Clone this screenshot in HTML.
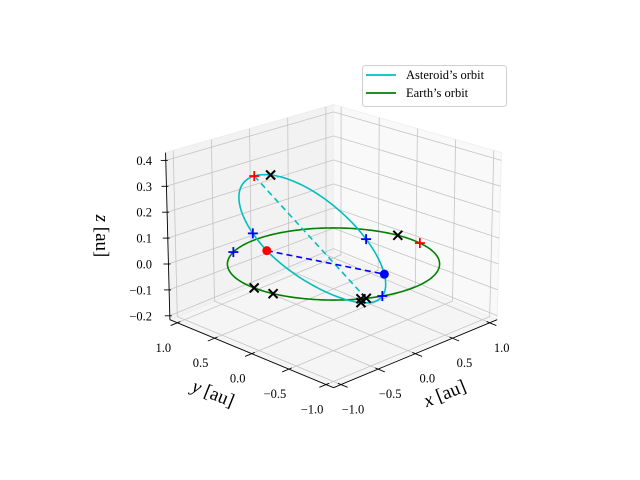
<!DOCTYPE html>
<html><head><meta charset="utf-8"><style>
html,body{margin:0;padding:0;background:#fff;}
svg{display:block;font-family:"Liberation Serif","DejaVu Serif",serif;}
</style></head><body>
<svg id="chart" width="640" height="480" viewBox="0 0 640 480"></svg>
<script>
// ---- data ----
const xTicks = [-1.0, -0.5, 0.0, 0.5, 1.0];
const yTicks = [-1.0, -0.5, 0.0, 0.5, 1.0];
const zTicks = [-0.2, -0.1, 0.0, 0.1, 0.2, 0.3, 0.4];
const xLim = [-1.1, 1.1];
const yLim = [-1.1, 1.1];
const zLim = [-0.215, 0.43];
// asteroid orbit elements (semi-major axis, eccentricity, perihelion angle, node direction, tilt)
const asteroidA = [0.725];
const asteroidE = [0.36];
const asteroidPeriDeg = [112];
const asteroidNodeDeg = [104.5];
const asteroidTilt = [-0.49];
const earthRadius = [1.0];
// marker positions (orbit angles, degrees)
const earthPlusRed = [-9.5];
const earthPlusBlue = [115.7, -107.6];
const earthCross = [7.7, 176.6, 190.3, -120, -117];
const astPlusRed = [-68];
const astPlusBlue = [-14, -145];
const astCross = [-80, 97];
const astDotRed = [0];
const astDotBlue = [180];

const NS = "http://www.w3.org/2000/svg";
const svg = document.getElementById('chart');
function mk(tag, attrs, parent) {
  const e = document.createElementNS(NS, tag);
  for (const k in attrs) e.setAttribute(k, attrs[k]);
  (parent || svg).appendChild(e);
  return e;
}
function proj(x, y, z) {
  const a = z <= 0 ? 25.5 - 25.1 * z : 25.5 - 8.6 * z;
  const b = 75.5 + (z - zLim[0]) * 3.1;
  return [333.5 + b * (x - y) * 0.985, 264 - a * (x + y) - 259 * z];
}
function pts(list) { return list.map(p => proj(p[0], p[1], p[2]).map(v => v.toFixed(2)).join(',')).join(' '); }

// ---- panes ----
const [x0, x1] = xLim, [y0, y1] = yLim, [z0, z1] = zLim;
const floor = mk('polygon', {points: pts([[x0,y0,z0],[x1,y0,z0],[x1,y1,z0],[x0,y1,z0]]), fill: '#f5f5f5', stroke: '#f0f0f0'});


const wallY = mk('polygon', {points: pts([[x0,y1,z0],[x1,y1,z0],[x1,y1,z1],[x0,y1,z1]]), fill: '#f2f2f2', stroke: '#ececec'});


const wallX = mk('polygon', {points: pts([[x1,y0,z0],[x1,y1,z0],[x1,y1,z1],[x1,y0,z1]]), fill: '#f9f9f9', stroke: '#f0f0f0'});



// ---- grid ----
const grid = mk('g', {stroke: '#c4c4c4', 'stroke-width': 0.8, fill: 'none'});


xTicks.forEach(t => { mk('polyline', {points: pts([[t,y0,z0],[t,y1,z0],[t,y1,z1]])}, grid); });
yTicks.forEach(t => { mk('polyline', {points: pts([[x0,t,z0],[x1,t,z0],[x1,t,z1]])}, grid); });
zTicks.forEach(t => { mk('polyline', {points: pts([[x0,y1,t],[x1,y1,t],[x1,y0,t]])}, grid); });

// ---- axes lines + ticks + labels ----
const axes = mk('g', {stroke: '#000', 'stroke-width': 0.9, fill: 'none'});


mk('polyline', {points: pts([[x0,y0,z0],[x1,y0,z0]])}, axes);
mk('polyline', {points: pts([[x0,y0,z0],[x0,y1,z0]])}, axes);
mk('polyline', {points: pts([[x0,y1,z0],[x0,y1,z1]])}, axes);
const labels = mk('g', {fill: '#000', 'font-size': 12.5});
xTicks.forEach(t => {
  mk('polyline', {points: pts([[t,y0+0.04,z0],[t,y0-0.09,z0]])}, axes);
  const p = proj(t, y0, z0);
  const tx = mk('text', {x: p[0] + 12, y: p[1] + 29, 'text-anchor': 'middle'}, labels);
  tx.textContent = (t < 0 ? '\u2212' : '') + Math.abs(t).toFixed(1);
  
  
});
yTicks.forEach(t => {
  mk('polyline', {points: pts([[x0+0.04,t,z0],[x0-0.09,t,z0]])}, axes);
  const p = proj(x0, t, z0);
  const tx = mk('text', {x: p[0] - 14, y: p[1] + 29, 'text-anchor': 'middle'}, labels);
  tx.textContent = (t < 0 ? '\u2212' : '') + Math.abs(t).toFixed(1);
  
  
});
zTicks.forEach(t => {
  const p = proj(x0, y1, t);
  mk('line', {x1: p[0] - 5, y1: p[1], x2: p[0] + 2, y2: p[1]}, axes);
  const tx = mk('text', {x: 152, y: p[1] + 4.5, 'text-anchor': 'end'}, labels);
  tx.textContent = (t < -1e-9 ? '\u2212' : '') + Math.abs(t).toFixed(1);
  
  
});

// axis titles
const xt = mk('text', {x: 0, y: 0, 'font-size': 19, 'text-anchor': 'middle', transform: 'translate(447,399) rotate(-22)'});
xt.innerHTML = '<tspan font-style="italic">x</tspan> [au]';


const yt = mk('text', {x: 0, y: 0, 'font-size': 19, 'text-anchor': 'middle', transform: 'translate(211,399) rotate(22)'});
yt.innerHTML = '<tspan font-style="italic">y</tspan> [au]';


const zt = mk('text', {x: 0, y: 0, 'font-size': 19, 'text-anchor': 'middle', transform: 'translate(96,236) rotate(90)'});
zt.innerHTML = '<tspan font-style="italic">z</tspan> [au]';



// ---- orbits ----
function earthPt(deg) { const r = earthRadius[0], t = deg * Math.PI / 180; return [r * Math.cos(t), r * Math.sin(t), 0]; }
const nd = asteroidNodeDeg[0] * Math.PI / 180;
const nVec = [Math.cos(nd), Math.sin(nd), 0];
const lam = asteroidTilt[0];
const nrm = Math.sqrt(1 + lam * lam);
const wVec = [Math.sin(nd) / nrm, -Math.cos(nd) / nrm, lam / nrm];
function astPt(deg) {
  const a = asteroidA[0], e = asteroidE[0], p = a * (1 - e * e);
  const t = deg * Math.PI / 180, w = asteroidPeriDeg[0] * Math.PI / 180;
  const r = p / (1 + e * Math.cos(t - w));
  const c = r * Math.cos(t), s = r * Math.sin(t);
  return [c * nVec[0] + s * wVec[0], c * nVec[1] + s * wVec[1], c * nVec[2] + s * wVec[2]];
}
const eList = [], aList = [];
for (let d = 0; d <= 360; d += 2) { eList.push(earthPt(d)); aList.push(astPt(d)); }
const earth = mk('polyline', {points: pts(eList), fill: 'none', stroke: '#008000', 'stroke-width': 1.6});


const ast = mk('polyline', {points: pts(aList), fill: 'none', stroke: '#00bfbf', 'stroke-width': 1.6});



// apsides and nodes lines
const ap = mk('polyline', {points: pts([astPt(asteroidPeriDeg[0] + 180), astPt(asteroidPeriDeg[0])]), stroke: '#00bfbf', 'stroke-width': 1.6, 'stroke-dasharray': '6,4', fill: 'none'});


const nl = mk('polyline', {points: pts([astPt(astDotRed[0]), astPt(astDotBlue[0])]), stroke: '#0000ff', 'stroke-width': 1.6, 'stroke-dasharray': '6,4', fill: 'none'});



// ---- markers ----
function plus(p3, color, name) {
  const p = proj(p3[0], p3[1], p3[2]);
  const g = mk('g', {stroke: color, 'stroke-width': 1.8});
  
  
  mk('line', {x1: p[0] - 5, y1: p[1], x2: p[0] + 5, y2: p[1]}, g);
  mk('line', {x1: p[0], y1: p[1] - 5, x2: p[0], y2: p[1] + 5}, g);
}
function cross(p3, name) {
  const p = proj(p3[0], p3[1], p3[2]);
  const g = mk('g', {stroke: '#000', 'stroke-width': 2});
  
  
  mk('line', {x1: p[0] - 4.5, y1: p[1] - 4.5, x2: p[0] + 4.5, y2: p[1] + 4.5}, g);
  mk('line', {x1: p[0] - 4.5, y1: p[1] + 4.5, x2: p[0] + 4.5, y2: p[1] - 4.5}, g);
}
function dot(p3, color, name) {
  const p = proj(p3[0], p3[1], p3[2]);
  const c = mk('circle', {cx: p[0], cy: p[1], r: 4.5, fill: color});
  
  
}
earthCross.forEach(d => cross(earthPt(d), 'earth-cross-marker'));
astCross.forEach(d => cross(astPt(d), 'asteroid-cross-marker'));
earthPlusRed.forEach(d => plus(earthPt(d), '#ff0000', 'earth-red-plus'));
earthPlusBlue.forEach(d => plus(earthPt(d), '#0000ff', 'earth-blue-plus'));
astPlusRed.forEach(d => plus(astPt(d), '#ff0000', 'asteroid-red-plus'));
astPlusBlue.forEach(d => plus(astPt(d), '#0000ff', 'asteroid-blue-plus'));
astDotRed.forEach(d => dot(astPt(d), '#ff0000', 'node-red-dot'));
astDotBlue.forEach(d => dot(astPt(d), '#0000ff', 'node-blue-dot'));

// ---- legend ----
const lg = mk('g', {});


mk('rect', {x: 362.5, y: 65.5, width: 144, height: 41, rx: 3, fill: '#fff', 'fill-opacity': 0.85, stroke: '#d0d0d0'}, lg);
const l1 = mk('line', {x1: 366, y1: 75, x2: 396, y2: 75, stroke: '#00bfbf', 'stroke-width': 1.8}, lg);


const t1 = mk('text', {x: 406, y: 79, 'font-size': 12.5}, lg);
t1.textContent = 'Asteroid\u2019s orbit';


const l2 = mk('line', {x1: 366, y1: 93, x2: 396, y2: 93, stroke: '#008000', 'stroke-width': 1.8}, lg);


const t2 = mk('text', {x: 406, y: 97, 'font-size': 12.5}, lg);
t2.textContent = 'Earth\u2019s orbit';


</script>
</body></html>
